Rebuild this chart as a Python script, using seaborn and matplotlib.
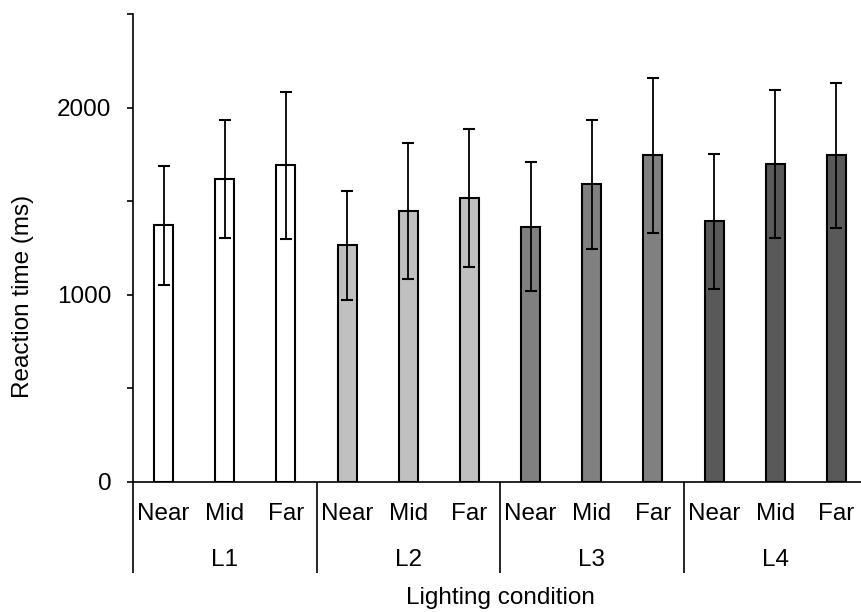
import matplotlib
matplotlib.use("Agg")
import matplotlib.pyplot as plt
import matplotlib.transforms as mtransforms
import numpy as np
import pandas as pd
import seaborn as sns

# Mean reaction times and error-bar half widths (ms)
lighting = ["L1", "L2", "L3", "L4"]
distances = ["Near", "Mid", "Far"]
mean_rt = [1370, 1616, 1691,
           1263, 1445, 1516,
           1363, 1591, 1745,
           1391, 1700, 1745]
err_rt = [320, 315, 392,
          291, 364, 368,
          345, 345, 415,
          363, 396, 388]
bar_colors = ["#ffffff", "#c0c0c0", "#808080", "#595959"]

df = pd.DataFrame({
    "cond": [f"{l}-{d}" for l in lighting for d in distances],
    "lighting": [l for l in lighting for _ in distances],
    "distance": [d for _ in lighting for d in distances],
    "rt": mean_rt,
    "err": err_rt,
})

sns.set_theme(style="ticks")
plt.rcParams["font.family"] = ["Liberation Sans", "DejaVu Sans"]
plt.rcParams["font.size"] = 17

FS = 17.5
W, H = 861, 612
fig = plt.figure(figsize=(W / 100, H / 100), dpi=100)
ax_left, ax_right = 133, 867
ax_top, ax_bottom = 14, 481.7
ax = fig.add_axes([ax_left / W, (H - ax_bottom) / H,
                   (ax_right - ax_left) / W, (ax_bottom - ax_top) / H])

sns.barplot(data=df, x="cond", y="rt", hue="lighting",
            palette=dict(zip(lighting, bar_colors)), order=list(df["cond"]),
            dodge=False, width=0.31, errorbar=None, legend=False,
            edgecolor="black", linewidth=1.5, ax=ax)

xpos = np.arange(len(df))
ax.errorbar(xpos, df["rt"], yerr=df["err"], fmt="none", ecolor="black",
            elinewidth=1.3, capsize=4.5, capthick=1.5, zorder=5)

ax.set_xlim(-0.5, len(df) - 0.5)
ax.set_ylim(0, 2500)
ax.set_yticks(np.arange(0, 2501, 500))
ax.set_yticklabels(["0", "", "1000", "", "2000", ""])
ax.tick_params(axis="y", direction="out", length=4.5, width=1.2, pad=11,
               labelsize=FS, color="black", labelcolor="black")

ax.set_xticks(xpos)
ax.set_xticklabels(df["distance"])
ax.tick_params(axis="x", length=0, pad=15, labelsize=FS, labelcolor="black")

for side in ["top", "right"]:
    ax.spines[side].set_visible(False)
for side in ["left", "bottom"]:
    ax.spines[side].set_color("black")
    ax.spines[side].set_linewidth(1.2)

# Group separators and group labels under the axis
trans = mtransforms.blended_transform_factory(ax.transData, ax.transAxes)
sep_bottom = -(572.7 - ax_bottom) / (ax_bottom - ax_top)
for i in range(len(lighting) + 1):
    xb = i * len(distances) - 0.5
    ax.plot([xb, xb], [0, sep_bottom], color="black", lw=1.2,
            transform=trans, clip_on=False, solid_capstyle="butt")
group_y = -(560 - ax_bottom) / (ax_bottom - ax_top)
for i, lab in enumerate(lighting):
    xc = i * len(distances) + (len(distances) - 1) / 2
    ax.text(xc, group_y, lab, transform=trans, ha="center", va="center",
            fontsize=FS, color="black")

ax.set_xlabel("Lighting condition", fontsize=FS, color="black")
ax.xaxis.set_label_coords(0.5, -(598 - ax_bottom) / (ax_bottom - ax_top))
ax.xaxis.label.set_va("center")
ax.set_ylabel("Reaction time (ms)", fontsize=FS, color="black")
ax.yaxis.set_label_coords(-(ax_left - 23) / (ax_right - ax_left),
                          (ax_bottom - 296.5) / (ax_bottom - ax_top))
ax.yaxis.label.set_va("center")

fig.savefig("out.png", dpi=100)
